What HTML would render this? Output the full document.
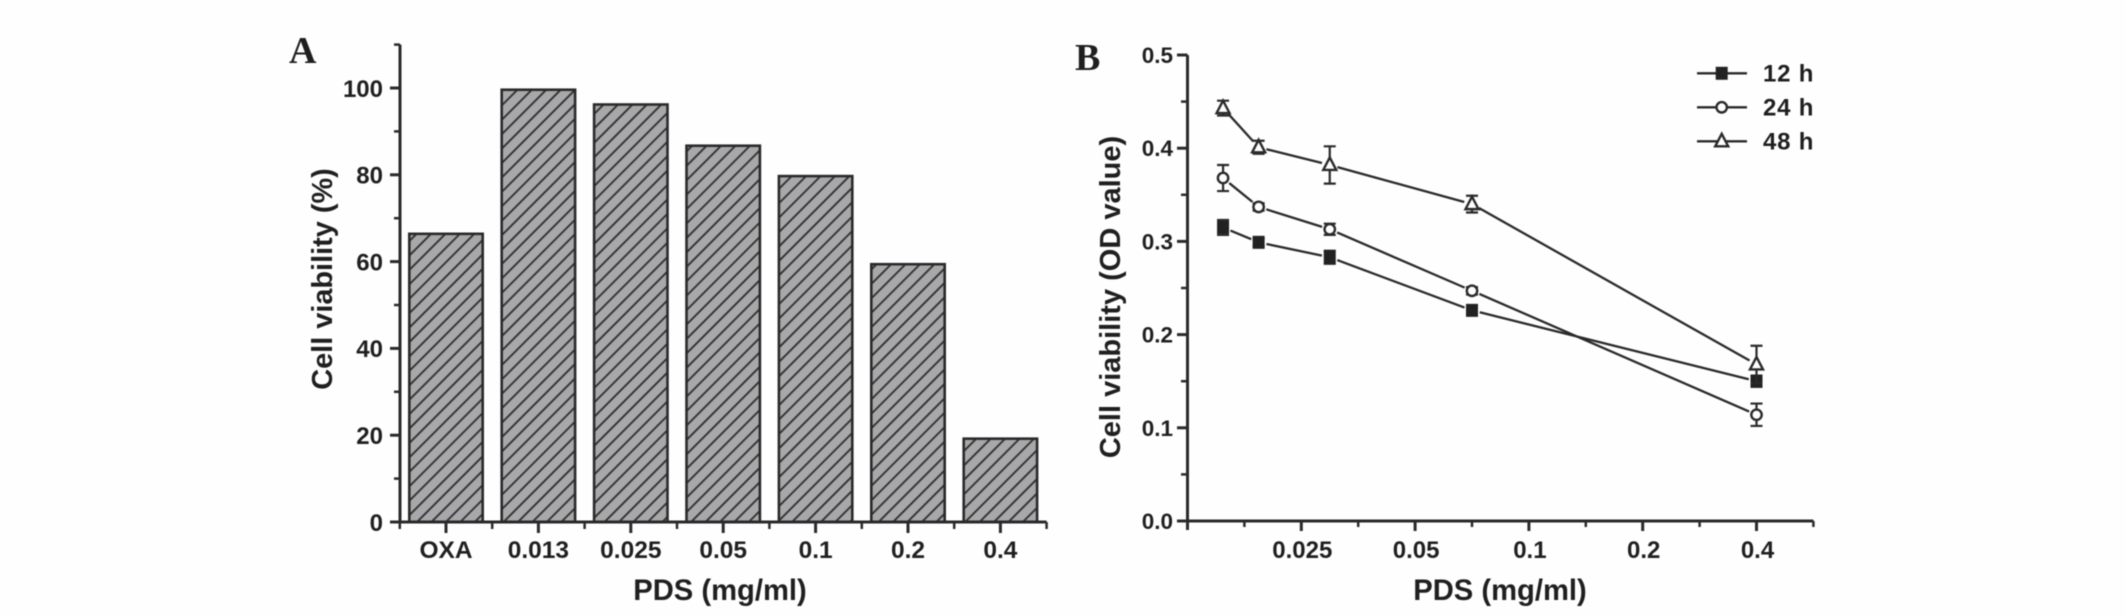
<!DOCTYPE html>
<html lang="en">
<head>
<meta charset="utf-8">
<title>Cell viability charts</title>
<style>
html,body{margin:0;padding:0;background:#fefefe;}
body{width:2126px;height:616px;overflow:hidden;}
svg{display:block;filter:blur(0.5px);}
text{font-family:"Liberation Sans",sans-serif;font-weight:bold;fill:#1f1f1f;}
.serif{font-family:"Liberation Serif",serif;}
</style>
</head>
<body>
<svg id="fig" xmlns="http://www.w3.org/2000/svg" width="2126" height="616" viewBox="0 0 2126 616">
<defs>
<pattern id="hatch" patternUnits="userSpaceOnUse" width="20" height="10.2" patternTransform="rotate(-45)">
<rect width="20" height="10.2" fill="#a8a8ab"/>
<rect width="20" height="1.9" fill="#333333"/>
</pattern>
</defs>
<rect width="2126" height="616" fill="#fefefe"/>
<g id="panelA">
<text class="serif" x="289" y="63" font-size="38">A</text>
<text transform="translate(332,279) rotate(-90)" text-anchor="middle" font-size="28.9">Cell viability (%)</text>
<text x="720" y="600" text-anchor="middle" font-size="29.2">PDS (mg/ml)</text>
</g>
<g id="panelB">
<text class="serif" x="1075" y="70" font-size="38">B</text>
<text transform="translate(1120,297) rotate(-90)" text-anchor="middle" font-size="29">Cell viability (OD value)</text>
<text x="1500" y="600" text-anchor="middle" font-size="29.2">PDS (mg/ml)</text>
</g>
</svg>
<script>
// Panel A data
const barCategories = ["OXA", "0.013", "0.025", "0.05", "0.1", "0.2", "0.4"];
const barValues = [66.4, 99.6, 96.2, 86.7, 79.7, 59.4, 19.2];
const barYTicks = [0, 20, 40, 60, 80, 100];
const barYMinorTicks = [10, 30, 50, 70, 90, 110];

// Panel B data
const doses = [0.025, 0.05, 0.1, 0.2, 0.4];
const series12h = [0.315, 0.299, 0.283, 0.226, 0.15];
const error12h = [0.008, 0.004, 0.007, 0.004, 0.006];
const series24h = [0.368, 0.337, 0.313, 0.247, 0.114];
const error24h = [0.014, 0.004, 0.006, 0.004, 0.012];
const series48h = [0.443, 0.401, 0.382, 0.34, 0.168];
const error48h = [0.008, 0.007, 0.02, 0.009, 0.02];
const lineXTickValues = [0.08, 0.16, 0.24, 0.32, 0.4];
const lineXTickLabels = ["0.025", "0.05", "0.1", "0.2", "0.4"];
const lineXMinorTicks = [0, 0.04, 0.12, 0.2, 0.28, 0.36, 0.44];
const lineYTicks = [0, 0.1, 0.2, 0.3, 0.4, 0.5];
const lineYMinorTicks = [0.05, 0.15, 0.25, 0.35, 0.45];
const legendLabels = ["12 h", "24 h", "48 h"];

const NS = "http://www.w3.org/2000/svg";
const INK = "#2a2a2a";
const BG = "#fefefe";

// Axis functions
function xA(i) { return 446 + 92.4 * i; }
function yA(v) { return 522 - 4.34 * v; }
function xB(d) { return 1187.5 + d * 1422.5; }
function yB(v) { return 521 - 932 * v; }

function mk(tag, attrs, parent, txt) {
  const el = document.createElementNS(NS, tag);
  for (const k in attrs) el.setAttribute(k, attrs[k]);
  if (txt !== undefined) el.textContent = txt;
  parent.appendChild(el);
  return el;
}
function line(x1, y1, x2, y2, w, parent) {
  return mk("line", {x1: x1, y1: y1, x2: x2, y2: y2, stroke: INK, "stroke-width": w}, parent);
}

const gA = document.getElementById("panelA");
const gB = document.getElementById("panelB");

// Panel A bars
barValues.forEach(function (v, i) {
  const cx = xA(i);
  const el = mk("rect", {x: cx - 36.7, y: yA(v), width: 73.4, height: yA(0) - yA(v), fill: "url(#hatch)", stroke: INK, "stroke-width": 2.6}, gA);
  
  
});

// Panel A axes
let el = line(400, yA(110), 400, yA(0) + 1.5, 3, gA);


el = line(400, yA(0), xA(6) + 46.2, yA(0), 3, gA);



barYTicks.forEach(function (v) {
  const t = line(390, yA(v), 400, yA(v), 3, gA);
  
  
  const l = mk("text", {x: 383, y: yA(v) + 8.8, "text-anchor": "end", "font-size": 24}, gA, String(v));
  
  
});
barYMinorTicks.forEach(function (v) {
  const t = line(394, yA(v), 400, yA(v), 2.5, gA);
  
  
});
barCategories.forEach(function (c, i) {
  const t = line(xA(i), yA(0), xA(i), yA(0) + 11, 3, gA);
  
  
  const m = line(xA(i) - 46.2, yA(0), xA(i) - 46.2, yA(0) + 7, 2.5, gA);
  
  
  const l = mk("text", {x: xA(i), y: 558, "text-anchor": "middle", "font-size": 24.5}, gA, c);
  
  
});
el = line(xA(6) + 46.2, yA(0), xA(6) + 46.2, yA(0) + 7, 2.5, gA);



// Panel B axes
el = line(1187.5, yB(0.5), 1187.5, yB(0) + 9, 3, gB);


el = line(1187.5, yB(0), xB(0.44), yB(0), 3, gB);



lineYTicks.forEach(function (v) {
  const t = line(1177, yB(v), 1187.5, yB(v), 3, gB);
  
  
  const l = mk("text", {x: 1173, y: yB(v) + 8, "text-anchor": "end", "font-size": 22.5}, gB, v.toFixed(1));
  
  
});
lineYMinorTicks.forEach(function (v) {
  const t = line(1181, yB(v), 1187.5, yB(v), 2.5, gB);
  
  
});
lineXTickValues.forEach(function (v, i) {
  const t = line(xB(v), yB(0), xB(v), yB(0) + 10, 3, gB);
  
  
  const l = mk("text", {x: xB(v) + 1, y: 558, "text-anchor": "middle", "font-size": 24}, gB, lineXTickLabels[i]);
  
  
});
lineXMinorTicks.forEach(function (v) {
  const t = line(xB(v), yB(0), xB(v), yB(0) + 6, 2.5, gB);
  
  
});

// Markers
function marker(kind, cx, cy, parent) {
  if (kind === "square") {
    return mk("rect", {x: cx - 5.5, y: cy - 6, width: 11, height: 12, fill: "#222", stroke: "#222", "stroke-width": 1}, parent);
  }
  if (kind === "circle") {
    return mk("circle", {cx: cx, cy: cy, r: 5.2, fill: BG, stroke: INK, "stroke-width": 2.4}, parent);
  }
  return mk("polygon", {points: (cx) + "," + (cy - 7.5) + " " + (cx + 6.5) + "," + (cy + 5) + " " + (cx - 6.5) + "," + (cy + 5), fill: BG, stroke: INK, "stroke-width": 2.4}, parent);
}

function drawSeries(name, kind, values, errors) {
  const g = mk("g", {}, gB);
  
  
  const gap = 8;
  for (let i = 0; i + 1 < values.length; i++) {
    const x1 = xB(doses[i]), y1 = yB(values[i]), x2 = xB(doses[i + 1]), y2 = yB(values[i + 1]);
    const len = Math.hypot(x2 - x1, y2 - y1);
    const ux = (x2 - x1) / len, uy = (y2 - y1) / len;
    const s = line(x1 + ux * gap, y1 + uy * gap, x2 - ux * gap, y2 - uy * gap, 2.3, g);
    
    
  }
  values.forEach(function (v, i) {
    const cx = xB(doses[i]);
    const top = yB(v + errors[i]), bot = yB(v - errors[i]);
    const b = mk("path", {d: "M" + (cx - 6) + " " + top + "H" + (cx + 6) + "M" + cx + " " + top + "V" + bot + "M" + (cx - 6) + " " + bot + "H" + (cx + 6), stroke: INK, "stroke-width": 2.2, fill: "none"}, g);
    
    
    const m = marker(kind, cx, yB(v), g);
    
    
  });
}
drawSeries("12h", "square", series12h, error12h);
drawSeries("24h", "circle", series24h, error24h);
drawSeries("48h", "triangle", series48h, error48h);

// Legend
const legendKinds = ["square", "circle", "triangle"];
legendLabels.forEach(function (label, i) {
  const y = 73.3 + 34 * i;
  const g = mk("g", {}, gB);
  
  
  line(1697, y, 1747, y, 2.3, g);
  const m = marker(legendKinds[i], 1721.7, y, g);
  
  
  const t = mk("text", {x: 1763, y: y + 8, "font-size": 24, "letter-spacing": 0.8}, g, label);
  
  
});
</script>
</body>
</html>
